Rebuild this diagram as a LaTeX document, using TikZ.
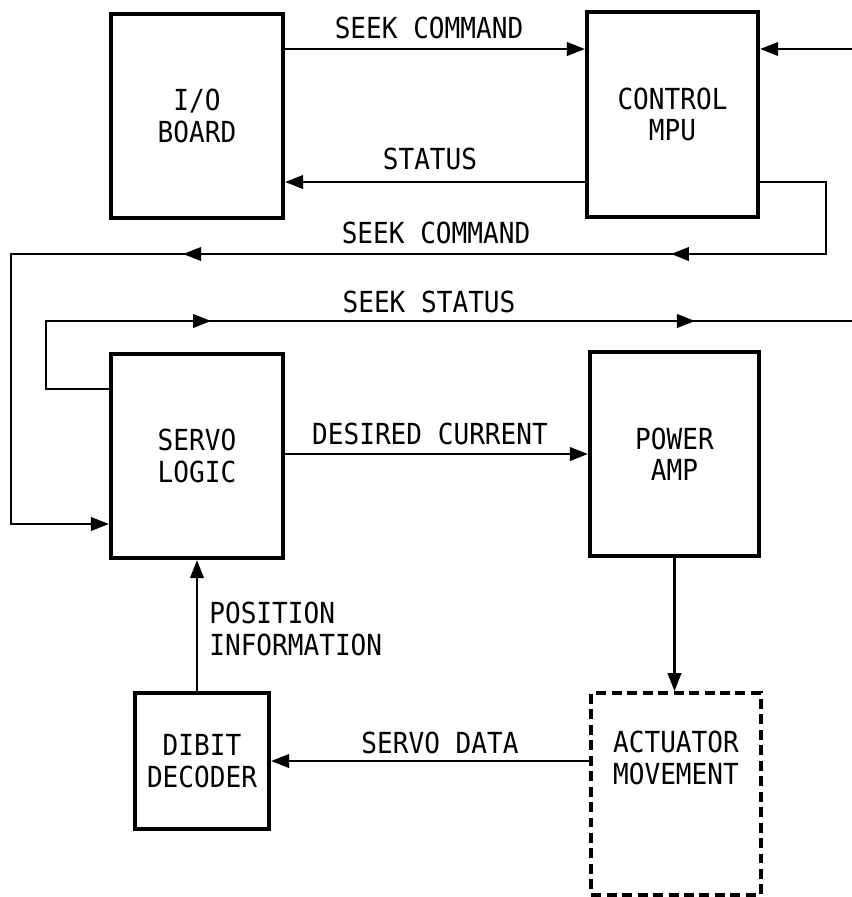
\documentclass[tikz,border=0pt]{standalone}
\usepackage{fontspec}
\setmainfont[FakeStretch=0.9]{DejaVu Sans Mono}
\usetikzlibrary{arrows.meta,decorations.markings}

\tikzset{
  block/.style={draw, line width=2.4pt, align=center, inner sep=0pt},
  dashblock/.style={draw, line width=2.2pt, dash pattern=on 0.2cm off 0.11cm, inner sep=0pt},
  wire/.style={line width=1.3pt},
  lbl/.style={inner sep=0pt},
  twomarks/.style 2 args={postaction={decorate}, decoration={markings,
      mark=at position #1 with {\arrow{>}},
      mark=at position #2 with {\arrow{>}}}},
}

\begin{document}
\begin{tikzpicture}[x=0.02cm, y=-0.02cm, >={Triangle[length=0.36cm,width=0.27cm]}, font=\fontsize{16.5}{17.8}\selectfont]
    \useasboundingbox (0,0) rectangle (852,897);

    % Blocks
    \node[block, minimum width=3.44cm, minimum height=4.08cm] (io) at (197,116) {I/O\\BOARD};
    \node[block, minimum width=3.42cm, minimum height=4.1cm] (mpu) at (672.5,114.5) {CONTROL\\MPU};
    \node[block, minimum width=3.44cm, minimum height=4.08cm] (servo) at (197,456) {SERVO\\LOGIC};
    \node[block, minimum width=3.38cm, minimum height=4.08cm] (amp) at (674.5,454) {POWER\\AMP};
    \node[block, minimum width=2.68cm, minimum height=2.72cm] (dibit) at (202,761) {DIBIT\\DECODER};
    \node[dashblock, minimum width=3.4cm, minimum height=4.04cm,
          label={[align=center, yshift=0.72cm]center:ACTUATOR\\MOVEMENT}] (actuator) at (676,794) {};

    % Corners and free ends
    \coordinate (cmdin) at (852,49);
    \coordinate (loopA) at (826,182);
    \coordinate (loopB) at (826,254);
    \coordinate (loopC) at (11,254);
    \coordinate (loopD) at (11,524);
    \coordinate (stsA) at (46,389);
    \coordinate (stsB) at (46,321);
    \coordinate (stsC) at (852,321);

    % Connections between I/O board and control MPU
    \draw[wire,->] (io.east |- cmdin) -- (mpu.west |- cmdin);
    \draw[wire,->] (cmdin) -- (mpu.east |- cmdin);
    \draw[wire,->] (mpu.west |- loopA) -- (io.east |- loopA);

    % Seek command and seek status loops
    \draw[wire,->,twomarks={5.86cm}{15.62cm}] (mpu.east |- loopA) -- (loopA) -- (loopB) -- (loopC) -- (loopD) -- (servo.west |- loopD);
    \draw[wire,twomarks={5.92cm}{15.6cm}] (servo.west |- stsA) -- (stsA) -- (stsB) -- (stsC);

    % Servo path
    \draw[wire,->] (servo.east |- amp.west) -- (amp.west);
    \draw[wire,->] (amp.south) -- (amp.south |- actuator.north);
    \draw[wire,->] (actuator.west |- dibit.east) -- (dibit.east);
    \draw[wire,->] (dibit.north -| servo.south) -- (servo.south);

    % Labels
    \node[lbl] (cmdtoplbl) at (429,28) {SEEK COMMAND};
    \node[lbl] (statuslbl) at (430,159) {STATUS};
    \node[lbl] (cmdlbl) at (436,233) {SEEK COMMAND};
    \node[lbl] (stslbl) at (429,302) {SEEK STATUS};
    \node[lbl] (currentlbl) at (430,434) {DESIRED CURRENT};
    \node[lbl, anchor=west, align=left] (poslbl) at (209,629) {POSITION\\INFORMATION};
    \node[lbl] (datalbl) at (440,743) {SERVO DATA};
\end{tikzpicture}
\end{document}
